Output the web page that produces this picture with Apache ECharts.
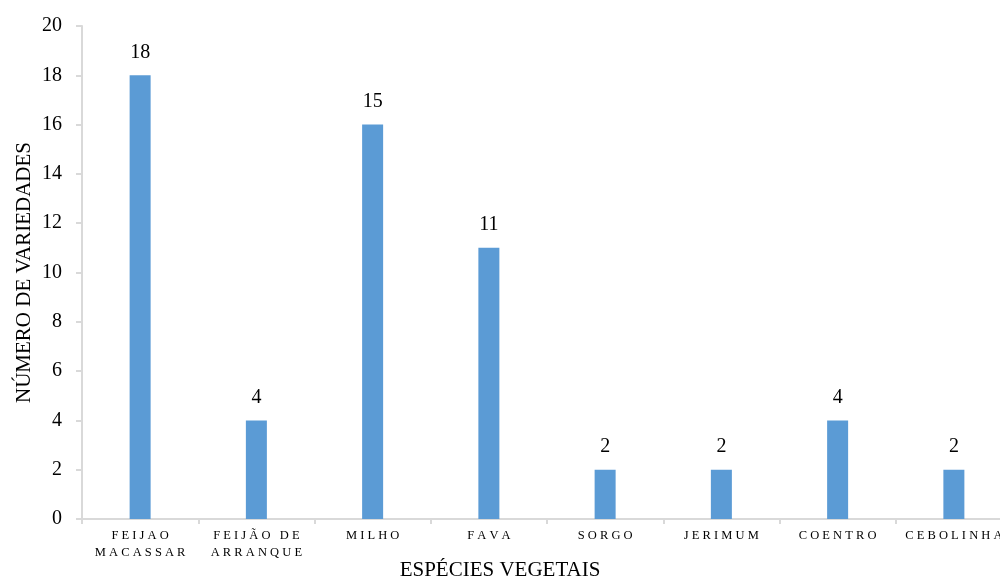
<!DOCTYPE html>
<html>
<head>
<meta charset="utf-8">
<script src="https://cdn.jsdelivr.net/npm/echarts@6/dist/echarts.min.js"></script>
<style>
  html, body { margin: 0; padding: 0; background: #fff; }
  #chart { width: 1000px; height: 581px; }
</style>
</head>
<body>
<div id="chart"></div>
<script>
// espécies e número de variedades
const categories = ['FEIJAO\nMACASSAR', 'FEIJÃO DE\nARRANQUE', 'MILHO', 'FAVA', 'SORGO', 'JERIMUM', 'COENTRO', 'CEBOLINHA'];
const values = [18, 4, 16, 11, 2, 2, 4, 2];
// rótulos como aparecem no gráfico original (MILHO diz 15)
const valueLabels = ['18', '4', '15', '11', '2', '2', '4', '2'];
const yTicks = [0, 2, 4, 6, 8, 10, 12, 14, 16, 18, 20];

const serif = '"Liberation Serif", "DejaVu Serif", serif';
const axisGray = '#d9d9d9';

let chart = echarts.init(document.getElementById('chart'));

// espaçar as letras como no original
function spaced(s) {
    return s.split('\n').map(line => line.split('').join(' ')).join('\n');
}

const option = {
    animation: false,
    // o título do eixo X fica centrado na página, não no eixo (que passa da borda)
    title: {
        text: 'ESPÉCIES VEGETAIS',
        left: 'center',
        top: 555,
        textStyle: { fontFamily: serif, fontSize: 21, fontWeight: 'normal', color: '#000' }
    },
    grid: { left: 82, top: 26, width: 930, height: 493, containLabel: false, outerBoundsMode: 'none' },
    xAxis: {
        type: 'category',
        data: categories,
        axisLine: { lineStyle: { color: axisGray, width: 2 } },
        axisTick: { show: true, length: 5, lineStyle: { color: axisGray, width: 2 } },
        axisLabel: {
            fontFamily: serif, fontSize: 12.5, color: '#000', margin: 8, lineHeight: 17,
            interval: 0, hideOverlap: false, formatter: v => spaced(v)
        }
    },
    yAxis: {
        type: 'value',
        min: 0, max: yTicks[yTicks.length - 1], interval: yTicks[1] - yTicks[0],
        name: 'NÚMERO DE VARIEDADES',
        nameLocation: 'middle',
        nameGap: 47,
        nameMoveOverlap: false,
        nameTextStyle: { fontFamily: serif, fontSize: 21, color: '#000' },
        axisLine: { show: true, lineStyle: { color: axisGray, width: 2 } },
        axisTick: { show: true, length: 6, lineStyle: { color: axisGray, width: 2 } },
        splitLine: { show: false },
        axisLabel: { fontFamily: serif, fontSize: 20, color: '#000', margin: 20 }
    },
    series: [
        {
            type: 'bar',
            data: values,
            barWidth: 21,
            itemStyle: { color: '#5b9bd5' },
            label: {
                show: true,
                position: 'top',
                distance: 13,
                fontFamily: serif,
                fontSize: 20,
                color: '#000',
                formatter: p => valueLabels[p.dataIndex]
            }
        }
    ]
};

chart.setOption(option);
</script>
</body>
</html>
